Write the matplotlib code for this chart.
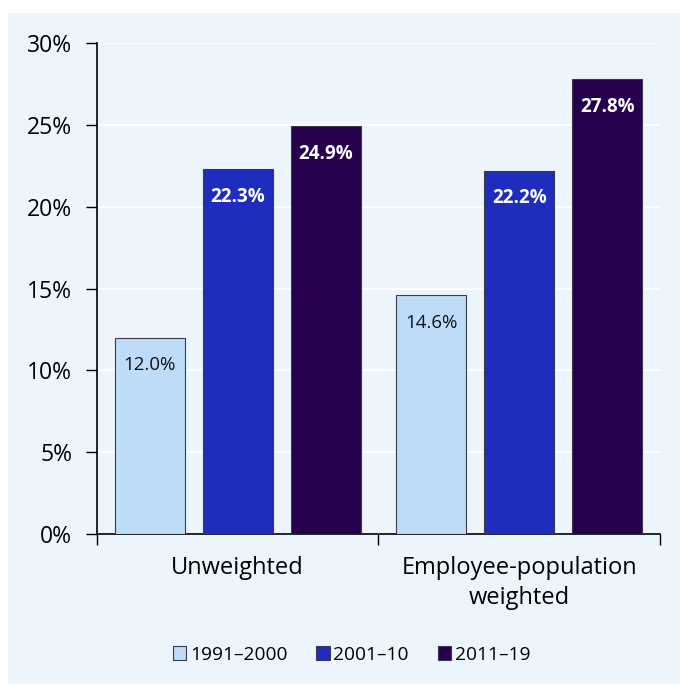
import matplotlib
matplotlib.use("Agg")
import matplotlib.pyplot as plt
from matplotlib.patches import Rectangle
from matplotlib.ticker import FixedLocator, PercentFormatter
import numpy as np

plt.rcParams['font.family'] = ['Open Sans', 'Noto Sans', 'DejaVu Sans']

categories = ["Unweighted", "Employee-population\nweighted"]
series_names = ["1991\u20132000", "2001\u201310", "2011\u201319"]
values = {
    "1991\u20132000": [12.0, 14.6],
    "2001\u201310": [22.3, 22.2],
    "2011\u201319": [24.9, 27.8],
}
colors = ["#BEDBF7", "#1F2DBE", "#26004D"]
label_colors = ["#111111", "white", "white"]
label_weights = ["normal", "bold", "bold"]

bg = "#EDF5FC"
fig = plt.figure(figsize=(6.8, 6.84), dpi=100, facecolor="white")
fig.patches.append(Rectangle((8/680, 0), 1 - 8/680, 1 - 13/684, transform=fig.transFigure,
                             facecolor=bg, edgecolor="none", zorder=-10))
ax = fig.add_axes([97/680, 1 - 534/684, 563/680, 491/684])
ax.set_facecolor(bg)

x = np.arange(len(categories))
width = 0.25
offsets = [-0.3125, 0, 0.3125]
for i, name in enumerate(series_names):
    bars = ax.bar(x + offsets[i], values[name], width, color=colors[i],
                  edgecolor="#3a3a4a", linewidth=0.8, label=name, zorder=3)
    for b, v in zip(bars, values[name]):
        ax.annotate(f"{v:.1f}%", (b.get_x() + b.get_width()/2, b.get_height()),
                    xytext=(0, -20), textcoords="offset points", ha="center", va="center",
                    color=label_colors[i], fontweight=label_weights[i], fontsize=13.5, zorder=4)

ax.set_xlim(-0.5, 1.5)
ax.set_ylim(0, 30)
ax.yaxis.set_major_locator(FixedLocator([0, 5, 10, 15, 20, 25, 30]))
ax.yaxis.set_major_formatter(PercentFormatter(decimals=0))
ax.grid(axis="y", color="white", linewidth=1.2, zorder=0)
ax.set_axisbelow(True)

ax.set_xticks(x)
ax.set_xticklabels(categories, fontsize=17, linespacing=1.3)
ax.xaxis.set_minor_locator(FixedLocator([-0.5, 0.5, 1.5]))
ax.tick_params(axis="x", which="major", length=0, pad=16)
ax.tick_params(axis="x", which="minor", length=8, width=1, direction="out")
ax.tick_params(axis="y", length=8, width=1, direction="out", labelsize=16.5, pad=10)

for s in ["top", "right"]:
    ax.spines[s].set_visible(False)
for s in ["left", "bottom"]:
    ax.spines[s].set_linewidth(1.2)
    ax.spines[s].set_color("black")

fig.legend(loc="center", bbox_to_anchor=(0.517, 0.043), ncol=3, frameon=False,
           fontsize=13.8, handlelength=0.7, handleheight=0.8, handletextpad=0.2,
           columnspacing=1.5)

fig.savefig("out.png", dpi=100, facecolor="white")
